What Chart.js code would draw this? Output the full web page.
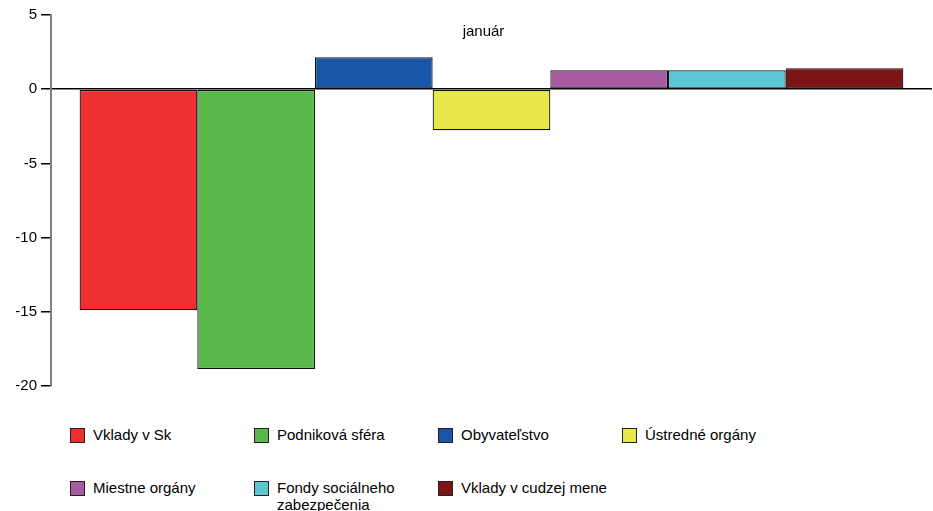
<!DOCTYPE html>
<html>
<head>
<meta charset="utf-8">
<script src="https://cdn.jsdelivr.net/npm/chart.js@4/dist/chart.umd.min.js"></script>
<style>
  body { margin: 0; background: #fff; font-family: "Liberation Sans", Arial, sans-serif; }
  #wrap { position: relative; width: 933px; height: 511px; }
  #chartBox { position: absolute; left: 0; top: 0; width: 933px; height: 400px; }
  #legend { position: absolute; left: 70px; top: 428px; display: grid;
    grid-template-columns: repeat(4, 184px); grid-auto-rows: 53px; font-size: 15px; color: #000; }
  .item { display: flex; align-items: flex-start; }
  .box { width: 13px; height: 13px; border: 1px solid #222; margin-right: 8px; margin-top: 0px; flex: none; }
  .txt { line-height: 17px; width: 150px; margin-top: -2px; }
</style>
</head>
<body>
<div id="wrap">
  <div id="chartBox"><canvas id="barChart"></canvas></div>
  <div id="legend"></div>
</div>
<script>
var labels = ["január"];
var seriesNames = ["Vklady v Sk", "Podniková sféra", "Obyvateľstvo", "Ústredné orgány",
  "Miestne orgány", "Fondy sociálneho zabezpečenia", "Vklady v cudzej mene"];
var seriesValues = [-14.9, -18.85, 2.15, -2.77, 1.27, 1.27, 1.42];
var seriesColors = ["#EE3030", "#58B84A", "#1A56A6", "#E8E84A", "#A65BA2", "#5CC7D2", "#7A1416"];
var yTicks = { min: -20, max: 5, step: 5 };

var ctx = document.getElementById("barChart").getContext("2d");

// popis kategórie vo vnútri grafu
var categoryLabel = {
  id: "categoryLabel",
  afterDraw: function (chart) {
    var c = chart.ctx, x = chart.scales.x, y = chart.scales.y;
    c.save();
    c.font = "15px 'Liberation Sans', Arial, sans-serif";
    c.fillStyle = "#000";
    c.textAlign = "center";
    c.textBaseline = "middle";
    chart.data.labels.forEach(function (l, i) {
      c.fillText(l, x.getPixelForValue(i) - 8, y.top + 17);
    });
    c.restore();
  }
};

var barChart = new Chart(ctx, {
  type: "bar",
  data: {
    labels: labels,
    datasets: seriesNames.map(function (name, i) {
      return {
        label: name,
        data: [seriesValues[i]],
        backgroundColor: seriesColors[i],
        borderColor: "#111",
        borderWidth: 1.2,
        borderSkipped: false,
        barPercentage: 1,
        categoryPercentage: 0.935,
      };
    }),
  },
  options: {
    responsive: true,
    maintainAspectRatio: false,
    animation: false,
    layout: { padding: { top: 15, right: 1, bottom: 14, left: 0 } },
    plugins: { legend: { display: false }, tooltip: { enabled: false }, title: { display: false } },
    scales: {
      x: { display: false },
      y: {
        min: yTicks.min,
        max: yTicks.max,
        afterFit: function (scale) { scale.width = 51; },
        ticks: {
          stepSize: yTicks.step,
          color: "#000",
          padding: 4,
          font: { family: "'Liberation Sans', Arial, sans-serif", size: 15 },
        },
        border: { color: "#808080", width: 2 },
        grid: {
          color: function (c) { return c.tick && c.tick.value === 0 ? "#000" : "rgba(0,0,0,0)"; },
          lineWidth: 1.5,
          tickColor: "#000",
          tickLength: 10,
        },
      },
    },
  },
  plugins: [categoryLabel],
});

// legenda v mriežke
var legend = document.getElementById("legend");
barChart.data.datasets.forEach(function (ds) {
  var item = document.createElement("div");
  item.className = "item";
  var box = document.createElement("span");
  box.className = "box";
  box.style.background = ds.backgroundColor;
  var txt = document.createElement("span");
  txt.className = "txt";
  txt.textContent = ds.label;
  item.appendChild(box);
  item.appendChild(txt);
  legend.appendChild(item);
});
</script>
</body>
</html>
